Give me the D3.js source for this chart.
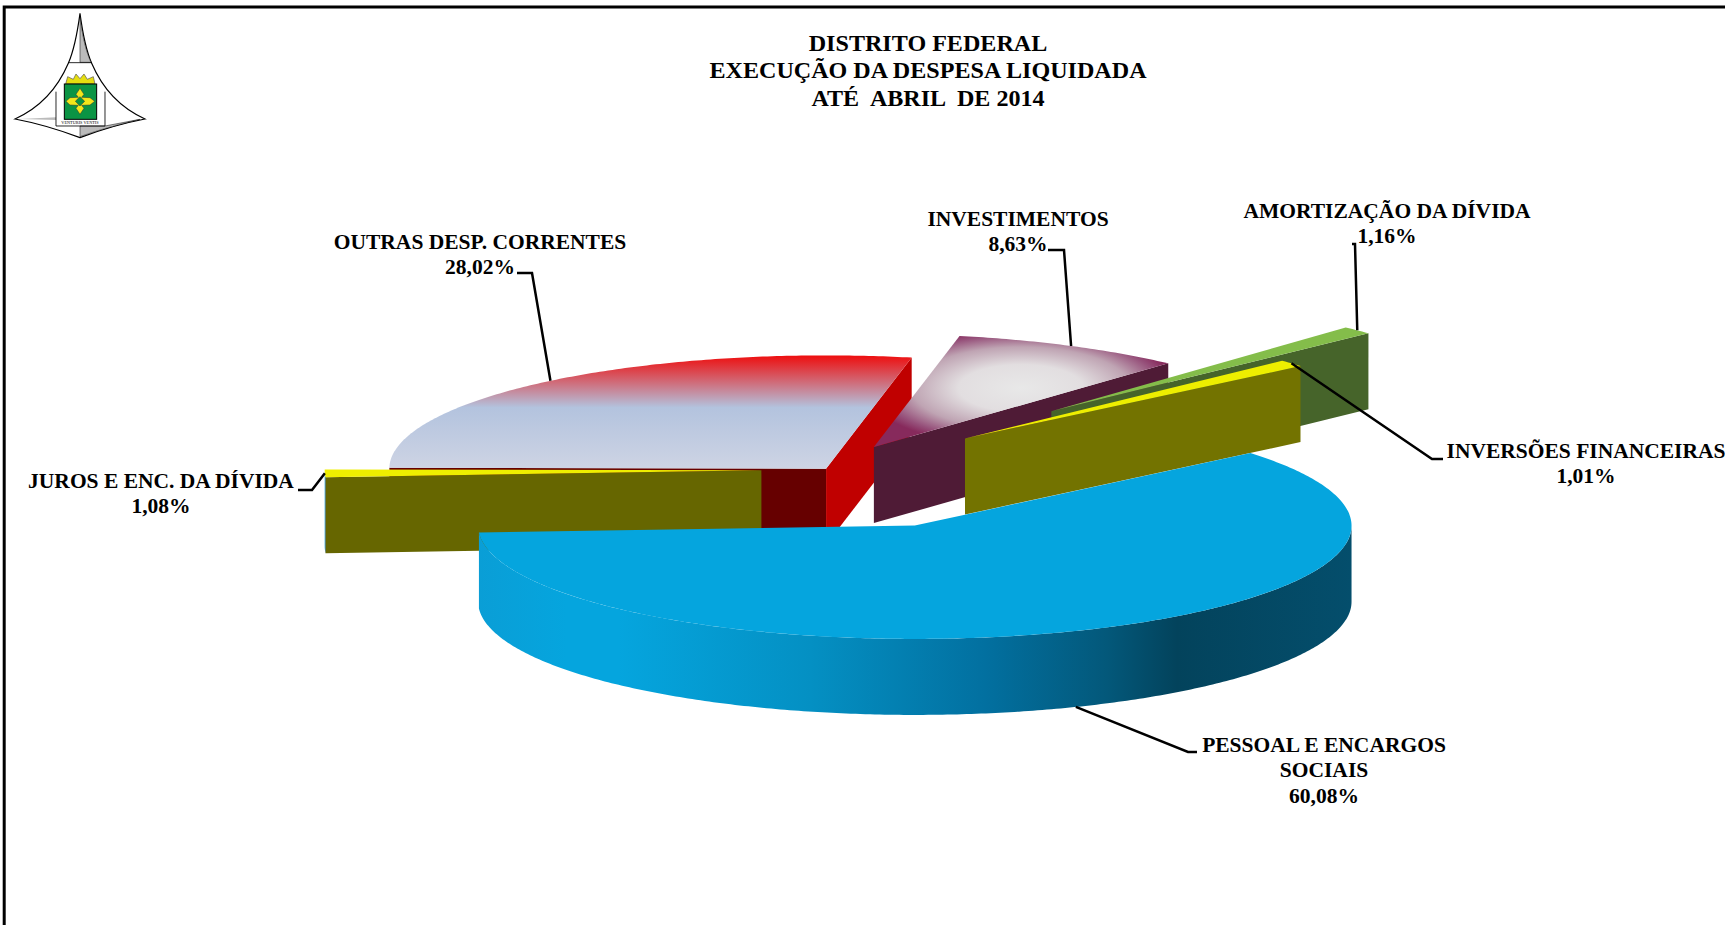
<!DOCTYPE html>
<html>
<head>
<meta charset="utf-8">
<script src="https://cdn.jsdelivr.net/npm/d3@7"></script>
<style>
  html, body { margin: 0; padding: 0; background: #fff; }
  svg { display: block; }
  text { font-family: "Liberation Serif", "Times New Roman", serif; font-weight: bold; fill: #000; }
</style>
</head>
<body>
<div id="plot"></div>
<script>
const titleLines = ["DISTRITO FEDERAL", "EXECUÇÃO DA DESPESA LIQUIDADA", "ATÉ  ABRIL  DE 2014"];

const categories = ["PESSOAL E ENCARGOS SOCIAIS", "JUROS E ENC. DA DÍVIDA", "OUTRAS DESP. CORRENTES", "INVESTIMENTOS", "AMORTIZAÇÃO DA DÍVIDA", "INVERSÕES FINANCEIRAS"];
const shares = [60.08, 1.08, 28.02, 8.63, 1.16, 1.01];
const shareLabels = ["60,08%", "1,08%", "28,02%", "8,63%", "1,16%", "1,01%"];
const explosion = [0.53, 0.156, 0.0125, 0.225, 0.725, 0.415];

// back to front, the blue slice sits over everything
const drawOrder = [2, 3, 4, 5, 1, 0];

const topFills = ["#05a5de", "#eeee00", "url(#outras-top)", "url(#invest-top)", "#84bd4a", "#eeee00"];
const startFaces = ["#05a5de", "#666600", "#660000", "#4f1b36", "#46642a", "#737300"];
const endFaces = ["#05a5de", "#666600", "#c00000", "#4f1b36", "#46642a", "#737300"];

const width = 1725, height = 925;
const cx = 829.5, cy = 469.8, rx = 436.7, ry = 113.3, depthPx = 76;
const firstAngle = 50.2 * Math.PI / 180;

const x = d3.scaleLinear().domain([-1, 1]).range([cx - rx, cx + rx]);
const y = d3.scaleLinear().domain([-1, 1]).range([cy - ry, cy + ry]);
const z = d3.scaleLinear().domain([0, 1]).range([0, depthPx]);

const project = d3.line().x(p => x(p[0])).y(p => y(p[1]) + z(p[2]));

const svg = d3.select("#plot").append("svg").attr("width", width).attr("height", height);
const defs = svg.append("defs");

const add_stops = function (grad, stops) {
    stops.forEach(s => grad.append("stop").attr("offset", s[0]).attr("stop-color", s[1]));
}

add_stops(defs.append("linearGradient").attr("id", "outras-top").attr("x1", 0).attr("y1", 0).attr("x2", 0).attr("y2", 1),
    [[0, "#ee0e0e"], [0.46, "#b3c3de"], [1, "#ced4e4"]]);
add_stops(defs.append("radialGradient").attr("id", "invest-top").attr("cx", 0.5).attr("cy", 0.47).attr("r", 0.53),
    [[0, "#e8e8e8"], [0.4, "#e2dee0"], [0.7, "#bfa4b3"], [0.9, "#96507a"], [1, "#872a5c"]]);
add_stops(defs.append("linearGradient").attr("id", "pessoal-rim"),
    [[0, "#0a9ed6"], [0.1, "#05a5de"], [0.16, "#05a5de"], [0.38, "#0490c3"], [0.58, "#0270a0"], [0.72, "#03587a"], [0.8, "#03435c"], [1, "#044e6c"]]);

svg.append("path")
    .attr("d", "M4.2,925V7H1725")
    .attr("fill", "none").attr("stroke", "#000").attr("stroke-width", 3);

// emblem, drawn in a 510x450 box and scaled down
const logo = svg.append("g").attr("transform", "scale(0.3333)");
logo.append("path")
    .attr("d", "M240,40C232,100 222,150 205,190C190,225 150,310 45,357Q140,375 240,413Q340,375 435,357C330,310 290,225 275,190C258,150 248,100 240,40Z")
    .attr("fill", "#fff").attr("stroke", "#000").attr("stroke-width", 3.5);
logo.append("path").attr("d", "M240,48C246,100 256,150 273,187L240,187Z").attr("fill", "#bbb").attr("stroke", "#000").attr("stroke-width", 1.5);
logo.append("path").attr("d", "M240,378L315,378L420,358C380,368 300,388 240,410Z").attr("fill", "#bbb").attr("stroke", "#000").attr("stroke-width", 1.5);
logo.append("path").attr("d", "M60,357L168,352L168,360Z").attr("fill", "#bbb");
logo.append("path").attr("d", "M205,188H275M168,275V378H315V275").attr("fill", "none").attr("stroke", "#000").attr("stroke-width", 2.5);
logo.append("path").attr("d", "M197,252L203,230L220,238L228,222L240,236L252,222L262,238L280,230L285,252Z").attr("fill", "#e6de10").attr("stroke", "#555").attr("stroke-width", 2);
logo.append("rect").attr("x", 193).attr("y", 252).attr("width", 97).attr("height", 106).attr("fill", "#0b9444").attr("stroke", "#000").attr("stroke-width", 3);
logo.append("path").attr("d", "M240,265L252,283L245,292L270,293L284,304L270,315L245,316L252,325L240,343L228,325L235,316L210,315L198,304L210,293L235,292L228,283Z").attr("fill", "#f2e71a").attr("stroke", "#333").attr("stroke-width", 1.5);
logo.append("path").attr("d", "M240,290L254,304L240,318L226,304Z").attr("fill", "#0b9444").attr("stroke", "#333").attr("stroke-width", 1.5);
logo.append("text").attr("x", 240).attr("y", 372).attr("text-anchor", "middle").attr("font-size", 13).attr("textLength", 112).attr("lengthAdjust", "spacingAndGlyphs").style("font-weight", "normal").text("VENTURIS VENTIS");

const pie = d3.pie().sort(null).value(d => d).startAngle(firstAngle).endAngle(firstAngle + 2 * Math.PI);
const slices = pie(shares);

const unit = (a, r) => [r * Math.sin(a), -r * Math.cos(a)];

const slice_centre = function (i) {
    let d = slices[i];
    return unit((d.startAngle + d.endAngle) / 2, explosion[i]);
}

const edge_point = function (i, a, level) {
    let c = slice_centre(i), u = unit(a, 1);
    return [c[0] + u[0], c[1] + u[1], level];
}

const arc_points = function (i, a0, a1, level) {
    let n = Math.max(2, Math.ceil(Math.abs(a1 - a0) * 90));
    return d3.range(n + 1).map(k => edge_point(i, a0 + (a1 - a0) * k / n, level));
}

const cut_face = function (i, a) {
    let c = slice_centre(i);
    return project([[c[0], c[1], 0], edge_point(i, a, 0), edge_point(i, a, 1), [c[0], c[1], 1]]) + "Z";
}

const pies = svg.append("g");

drawOrder.forEach(i => {
    let d = slices[i];
    let c = slice_centre(i);
    let g = pies.append("g").attr("class", "slice");

    if (Math.sin(d.startAngle) < -1e-6) {
        g.append("path").attr("d", cut_face(i, d.startAngle)).attr("fill", startFaces[i]);
    }
    if (Math.sin(d.endAngle) > 1e-6) {
        g.append("path").attr("d", cut_face(i, d.endAngle)).attr("fill", endFaces[i]);
    }

    // only the part of the rim between 90 and 270 degrees faces the viewer
    let rim0 = Math.max(d.startAngle, Math.PI / 2), rim1 = Math.min(d.endAngle, 3 * Math.PI / 2);
    if (rim1 > rim0) {
        let rim = arc_points(i, rim0, rim1, 0).concat(arc_points(i, rim1, rim0, 1));
        g.append("path").attr("d", project(rim) + "Z").attr("fill", "url(#pessoal-rim)");
    }

    let face = [[c[0], c[1], 0]].concat(arc_points(i, d.startAngle, d.endAngle, 0));
    g.append("path").attr("d", project(face) + "Z").attr("fill", topFills[i]);
});

// label blocks: centre x, first baseline, leader elbow points ending on the slice
const labelRows = [
    { i: 0, lines: ["PESSOAL E ENCARGOS", "SOCIAIS", "60,08%"], lx: 1324, ly: 752, elbow: [[1197, 752], [1188, 752]], level: 1 },
    { i: 1, lines: ["JUROS E ENC. DA DÍVIDA", "1,08%"], lx: 161, ly: 488, elbow: [[298, 490], [312, 490]], level: 0 },
    { i: 2, lines: ["OUTRAS DESP. CORRENTES", "28,02%"], lx: 480, ly: 249, elbow: [[517, 273], [532, 273]], level: 0 },
    { i: 3, lines: ["INVESTIMENTOS", "8,63%"], lx: 1018, ly: 226, elbow: [[1048, 250], [1064, 250]], level: 0 },
    { i: 4, lines: ["AMORTIZAÇÃO DA DÍVIDA", "1,16%"], lx: 1387, ly: 218, elbow: [[1352, 244], [1355, 244]], level: 0 },
    { i: 5, lines: ["INVERSÕES FINANCEIRAS", "1,01%"], lx: 1586, ly: 458, elbow: [[1443, 459], [1432, 459]], level: 0 }
];

const labels = svg.append("g");
labelRows.forEach(row => {
    let d = slices[row.i];
    let end = edge_point(row.i, (d.startAngle + d.endAngle) / 2, row.level);
    let pts = row.elbow.concat([[x(end[0]), y(end[1]) + z(end[2])]]);
    labels.append("path").attr("d", d3.line()(pts)).attr("fill", "none").attr("stroke", "#000").attr("stroke-width", 2.5);
    row.lines.forEach((t, k) => {
        labels.append("text").attr("x", row.lx).attr("y", row.ly + k * 25.3)
            .attr("text-anchor", "middle").attr("font-size", 21.5).text(t);
    });
});

svg.append("g").selectAll("text").data(titleLines).join("text")
    .attr("x", 928).attr("y", (d, i) => 51 + i * 27.3)
    .attr("text-anchor", "middle").attr("font-size", 24.1).style("white-space", "pre").text(d => d);
</script>
</body>
</html>
